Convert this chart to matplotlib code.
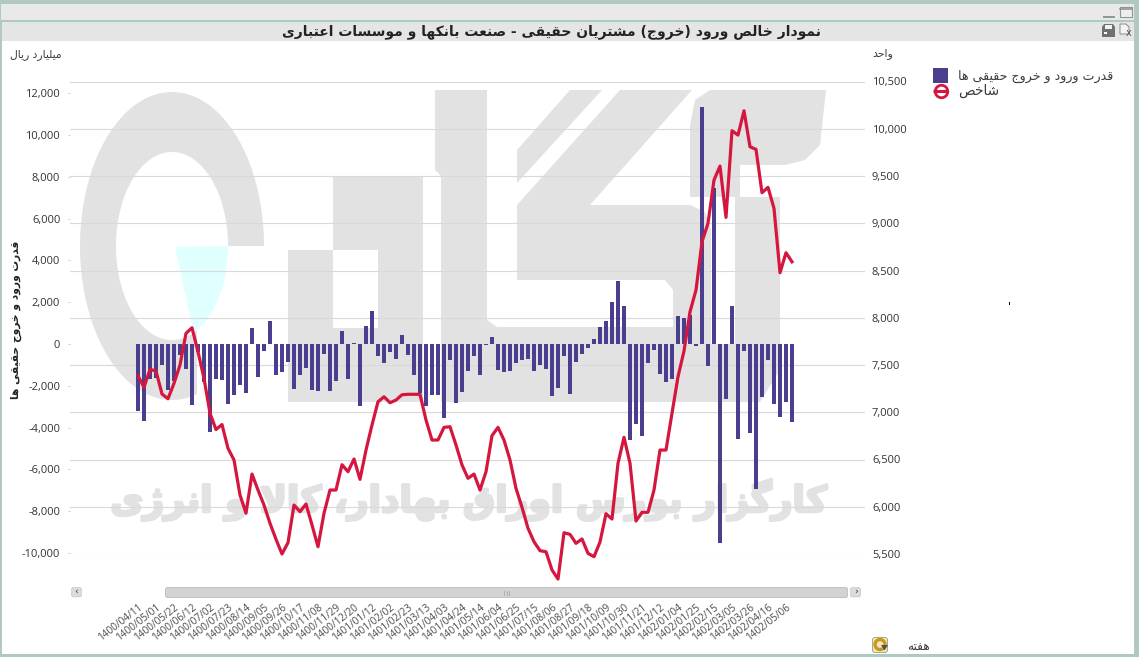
import unicodedata
import numpy as np
import matplotlib
matplotlib.use("Agg")
import matplotlib.pyplot as plt
import matplotlib.patheffects as pe
from matplotlib.patches import Polygon, Rectangle, FancyBboxPatch, Ellipse

W, H = 1139, 657

# Weekly net inflow of real customers (billion rials)
net_flow = [-3206, -3668, -1690, -1640, -1005, -2200, -1750, -526, -1196, -2900,
            -367, -1800, -4195, -1675, -1722, -2870, -2440, -1960, -2345, 765,
            -1563, -335, 1100, -1467, -1340, -861, -2153, -1483, -1148, -2200,
            -2250, -478, -2250, -1770, 622, -1675, 64, -2967, 861, 1580,
            -574, -909, -383, -718, 430, -526, -1483, -2350, -2950, -2440,
            -2440, -3540, -765, -2823, -2297, -1292, -574, -1483, -30, 335,
            -1244, -1340, -1292, -909, -765, -718, -1292, -1005, -1196, -2488,
            -2105, -574, -2392, -861, -478, -191, 239, 813, 1100, 2010,
            3015, 1818, -4578, -3828, -4402, -909, -287, -1435, -1818, -1675,
            1340, 1244, 1370, -96, 11354, -1053, 7450, -9522, -2632, 1818,
            -4546, -335, -4259, -6938, -2536, -766, -2871, -3493, -2775, -3732]

# Sector index at the same weeks
index_value = [7386, 7264, 7454, 7436, 7193, 7143, 7306, 7500, 7835, 7894,
               7640, 7359, 6989, 6817, 6870, 6618, 6495, 6124, 5931, 6346,
               6177, 6018, 5825, 5656, 5500, 5620, 6018, 5948, 6029, 5807,
               5577, 5931, 6177, 6177, 6445, 6371, 6505, 6290, 6600, 6865,
               7111, 7164, 7101, 7129, 7185, 7190, 7190, 7190, 6918, 6706,
               6706, 6840, 6847, 6653, 6442, 6301, 6346, 6177, 6371, 6752,
               6840, 6706, 6495, 6195, 5994, 5772, 5630, 5535, 5524, 5331,
               5235, 5725, 5708, 5613, 5659, 5507, 5471, 5627, 5926, 5870,
               6460, 6735, 6460, 5849, 5941, 5941, 6177, 6600, 6600, 6989,
               7376, 7648, 8063, 8293, 8804, 8999, 9457, 9605, 9062, 9979,
               9933, 10190, 9809, 9782, 9323, 9380, 9157, 8476, 8688, 8592]

date_labels = ["1400/04/11", "1400/05/01", "1400/05/22", "1400/06/12", "1400/07/02",
               "1400/07/23", "1400/08/14", "1400/09/05", "1400/09/26", "1400/10/17",
               "1400/11/08", "1400/11/29", "1400/12/20", "1401/01/12", "1401/02/02",
               "1401/02/23", "1401/03/13", "1401/04/03", "1401/04/24", "1401/05/14",
               "1401/06/04", "1401/06/25", "1401/07/15", "1401/08/06", "1401/08/27",
               "1401/09/18", "1401/10/09", "1401/10/30", "1401/11/21", "1401/12/12",
               "1402/01/04", "1402/01/25", "1402/02/15", "1402/03/05", "1402/03/26",
               "1402/04/16", "1402/05/06"]

left_ticks = [-10000, -8000, -6000, -4000, -2000, 0, 2000, 4000, 6000, 8000, 10000, 12000]
right_ticks = [5500, 6000, 6500, 7000, 7500, 8000, 8500, 9000, 9500, 10000, 10500]

title_text = "نمودار خالص ورود (خروج) مشتریان حقیقی - صنعت بانکها و موسسات اعتباری"
bar_name = "قدرت ورود و خروج حقیقی ها"
line_name = "شاخص"
left_unit = "میلیارد ریال"
right_unit = "واحد"
x_unit = "هفته"
watermark = "کارگزار بورس اوراق بهادار، کالا و انرژی"

BAR_COLOR = "#4a3e8e"
LINE_COLOR = "#d5173f"
GRID_COLOR = "#d9d9d9"
MARK_GRAY = "#e2e2e2"
TEXT_COLOR = "#3c3c3c"
FRAME_COLOR = "#b1cabf"


# Arabic-script shaping: matplotlib lays glyphs out one by one, so contextual
# forms are chosen here and the string is put in visual order.
FORMS = {}
for cp in list(range(0xFB50, 0xFC00)) + list(range(0xFE70, 0xFEFD)):
    parts = unicodedata.decomposition(chr(cp)).split()
    if len(parts) == 2 and parts[0] in ("<isolated>", "<final>", "<initial>", "<medial>"):
        FORMS.setdefault(chr(int(parts[1], 16)), {}).setdefault(parts[0].strip("<>"), chr(cp))
MIRROR = {"(": ")", ")": "("}


def shape(text):
    text = text.replace("\u0644\u0627", "\uFFF0")
    glyphs = []
    dual = lambda c: c in FORMS and "medial" in FORMS[c]
    joins_right = lambda c: c in FORMS or c == "\uFFF0"
    for i, ch in enumerate(text):
        prev = text[i - 1] if i else " "
        nxt = text[i + 1] if i + 1 < len(text) else " "
        link_prev = dual(prev)
        if ch == "\uFFF0":
            glyphs.append("\uFEFC" if link_prev else "\uFEFB")
        elif ch in FORMS:
            link_next = dual(ch) and joins_right(nxt)
            kind = {(True, True): "medial", (True, False): "final",
                    (False, True): "initial", (False, False): "isolated"}[(link_prev, link_next)]
            glyphs.append(FORMS[ch].get(kind, ch))
        else:
            glyphs.append(MIRROR.get(ch, ch))
    return "".join(reversed(glyphs))


def px(x, y):
    """Figure fraction from a pixel position measured from the top left."""
    return x / W, 1 - y / H


fig = plt.figure(figsize=(W / 100, H / 100), dpi=100, facecolor=FRAME_COLOR)
plt.rcParams["font.family"] = ["Open Sans", "DejaVu Sans"]

# Window frame, title bars, backdrop logo and controls share a pixel-based layer
chrome = fig.add_axes([0, 0, 1, 1], zorder=0)
chrome.set_xlim(0, W)
chrome.set_ylim(H, 0)
chrome.axis("off")
chrome.add_patch(Rectangle((1, 4), 1133, 16, fc="#e8e9e8", ec="none"))
chrome.add_patch(Rectangle((2, 22), 1132, 19, fc="#e4e5e6", ec="none"))
chrome.add_patch(Rectangle((2, 41), 1132, 613, fc="white", ec="none"))

# Backdrop logo: an open ring, cut straight on its lower right
theta = np.linspace(0, 2 * np.pi, 240)
cx, cy = 172, 246
ring = np.r_[np.c_[cx + 92 * np.cos(theta[:200]), cy - 154 * np.sin(theta[:200])],
             np.c_[cx + 56 * np.cos(theta[:200][::-1]), cy - 94 * np.sin(theta[:200][::-1])]]
for clip_box in (Rectangle((0, 248), 197, 200, transform=chrome.transData),
                 Rectangle((0, 0), 300, 248, transform=chrome.transData)):
    part = Polygon(ring, closed=True, fc=MARK_GRAY, ec="none")
    chrome.add_patch(part)
    part.set_clip_path(clip_box)
wedge_t = np.linspace(0, -1.1, 30)
wedge = np.r_[[[175, 247]], np.c_[cx + 56 * np.cos(wedge_t), cy - 94 * np.sin(wedge_t)], [[193, 330]]]
chrome.add_patch(Polygon(wedge, closed=True, fc="#e0ffff", ec="none"))

logo_shapes = [
    [(333, 177), (423, 177), (423, 402), (288, 402), (288, 250), (333, 250),
     (333, 328), (378, 328), (378, 250), (333, 250)],
    [(570, 90), (602, 90), (517, 183), (517, 150)],
    [(435, 90), (487, 90), (487, 320), (497, 327), (673, 327), (673, 290), (665, 280),
     (517, 280), (517, 205), (620, 90), (692, 90), (590, 205), (690, 205), (705, 212),
     (711, 230), (711, 344), (735, 344), (735, 197), (780, 197), (780, 370), (760, 402),
     (441, 402), (441, 176), (435, 170)],
    [(690, 125), (695, 100), (710, 90), (826, 90), (820, 145), (805, 160), (785, 165),
     (740, 165), (740, 197), (690, 197)],
]
for outline in logo_shapes:
    chrome.add_patch(Polygon(outline, closed=True, fc=MARK_GRAY, ec="none"))


def fit_width(artist, target, vertical=False):
    """Rescale a text so that its drawn length equals target pixels."""
    box = artist.get_window_extent(fig.canvas.get_renderer())
    artist.set_fontsize(artist.get_fontsize() * target / (box.height if vertical else box.width))


mark_text = chrome.text(469, 500, shape(watermark), color=MARK_GRAY, fontsize=30,
                        fontweight="bold", family="DejaVu Sans", ha="center", va="center",
                        path_effects=[pe.withStroke(linewidth=2.0, foreground=MARK_GRAY)])
fit_width(mark_text, 716)

# Title and units
title = chrome.text(552, 32, shape(title_text), color="#222222", fontsize=10,
                    fontweight="bold", family="DejaVu Sans", ha="center", va="center")
fit_width(title, 540)
unit_l = chrome.text(36, 54.5, shape(left_unit), color=TEXT_COLOR, fontsize=7,
                     family="DejaVu Sans", ha="center", va="center")
fit_width(unit_l, 52)
unit_r = chrome.text(883, 53.5, shape(right_unit), color=TEXT_COLOR, fontsize=7,
                     family="DejaVu Sans", ha="center", va="center")
fit_width(unit_r, 21)
y_name = chrome.text(16, 320, shape(bar_name), color="#222222", fontsize=7, fontweight="bold",
                     family="DejaVu Sans", rotation=90, ha="center", va="center")
fit_width(y_name, 158, vertical=True)

# Hand-placed legend on the right
chrome.add_patch(Rectangle((933, 68), 15, 15, fc=BAR_COLOR, ec="none"))
chrome.plot([933, 948], [91, 91], color=LINE_COLOR, lw=2.2, solid_capstyle="butt")
chrome.plot([940.5], [91], marker="o", ms=9, mfc="none", mec=LINE_COLOR, mew=2.0)
legend_a = chrome.text(958, 76, shape(bar_name), color=TEXT_COLOR, fontsize=8,
                       family="DejaVu Sans", ha="left", va="center")
fit_width(legend_a, 155)
legend_b = chrome.text(958, 90.5, shape(line_name), color=TEXT_COLOR, fontsize=8,
                       family="DejaVu Sans", ha="left", va="center")
fit_width(legend_b, 41)
chrome.add_patch(Rectangle((1008.5, 301.5), 1.2, 3, fc="black", ec="none"))

# Range scrollbar under the plot
chrome.add_patch(FancyBboxPatch((166, 588), 681, 9, boxstyle="round,pad=0.5,rounding_size=2",
                                fc="#d3d3d3", ec="#c2c2c2", lw=0.7))
for bx, sign in ((72, "‹"), (851, "›")):
    chrome.add_patch(FancyBboxPatch((bx, 588), 9, 8.5, boxstyle="round,pad=0.3,rounding_size=1.5",
                                    fc="#dcdcdc", ec="#c6c6c6", lw=0.6))
    chrome.text(bx + 4.5, 592, sign, color="#333333", fontsize=6.5, ha="center", va="center",
                family="DejaVu Sans")
for gx in (504, 506.5, 509):
    chrome.plot([gx, gx], [590.5, 594.5], color="#a8a8a8", lw=0.6)

# Toolbar glyphs
chrome.plot([1104, 1114], [17, 17], color="#8f9692", lw=1.4)
chrome.add_patch(Rectangle((1120, 7), 12, 10, fc="#eeeeee", ec="#8f9692", lw=0.8))
chrome.plot([1120, 1132], [8.5, 8.5], color="#8f9692", lw=1.2)
chrome.add_patch(Polygon([(1104, 24), (1113, 24), (1115, 27), (1115, 37), (1102, 37), (1102, 27)],
                         closed=True, fc="#6e7071", ec="none"))
chrome.add_patch(Rectangle((1105, 25), 7, 4, fc="#f2f2f2", ec="none"))
chrome.add_patch(Rectangle((1104, 32), 3, 2, fc="white", ec="none"))
chrome.add_patch(Polygon([(1120, 24), (1126, 24), (1129, 27), (1129, 34), (1120, 34)],
                         closed=True, fc="#f4f4f4", ec="#8a8a8a", lw=0.7))
chrome.text(1129, 32.5, "x", color="#555555", fontsize=7, ha="center", va="center",
            family="DejaVu Sans")

# Refresh button and period label
chrome.add_patch(FancyBboxPatch((873, 638), 14, 14, boxstyle="round,pad=0.5,rounding_size=2.5",
                                fc="#f1e7c4", ec="#9a9a8a", lw=0.6))
chrome.add_patch(Ellipse((880, 644.5), 10, 10, fc="none", ec="#c9991a", lw=2.4))
chrome.add_patch(Polygon([(881, 645), (888, 645), (884.5, 650.5)], closed=True, fc="#55534a", ec="none"))
period = chrome.text(918.5, 646, shape(x_unit), color=TEXT_COLOR, fontsize=7,
                     family="DejaVu Sans", ha="center", va="center")
fit_width(period, 23)

# Plot region spans x 70..865 and y 81.5..554 in pixels
x0, y0 = px(70, 554)
x1, y1 = px(865, 81.5)
ax_right = fig.add_axes([x0, y0, x1 - x0, y1 - y0], zorder=1)
ax_left = ax_right.twinx()
ax_line = ax_right.twinx()
ax_left.set_zorder(2)
ax_line.set_zorder(3)
for a in (ax_right, ax_left, ax_line):
    a.patch.set_alpha(0)
    for s in a.spines.values():
        s.set_visible(False)

positions = np.arange(len(net_flow))
ax_right.set_xlim(-68 / 6, 727 / 6)
ax_right.set_xticks(positions[::3][:len(date_labels)])
ax_right.set_xticklabels(date_labels, rotation=38, ha="right", va="top",
                         rotation_mode="anchor", color="#4a4a4a", fontsize=7.2)
ax_right.tick_params(axis="x", length=0, pad=34.5)

ax_right.set_ylim(5500, 10500)
ax_right.yaxis.tick_right()
ax_right.set_yticks(right_ticks)
ax_right.set_yticklabels([f"{v:,}" for v in right_ticks], color="#333333", fontsize=8)
ax_right.tick_params(axis="y", length=0, pad=5)
ax_right.grid(axis="y", color=GRID_COLOR, lw=0.8)
ax_right.set_axisbelow(True)

ax_left.bar(positions, net_flow, width=4 / 6, color=BAR_COLOR, linewidth=0)
ax_left.set_ylim(-10048, 12560)
ax_left.yaxis.tick_left()
ax_left.set_yticks(left_ticks)
ax_left.set_yticklabels([f"{v:,}" for v in left_ticks], color="#333333", fontsize=8)
ax_left.tick_params(axis="y", length=1.5, width=0.7, color="#cccccc", pad=5.5)

ax_line.plot(positions, index_value, color=LINE_COLOR, lw=2.3, solid_joinstyle="round",
             clip_on=False)
ax_line.set_ylim(5500, 10500)
ax_line.set_yticks([])

fig.savefig("out.png", dpi=100, facecolor=fig.get_facecolor())
